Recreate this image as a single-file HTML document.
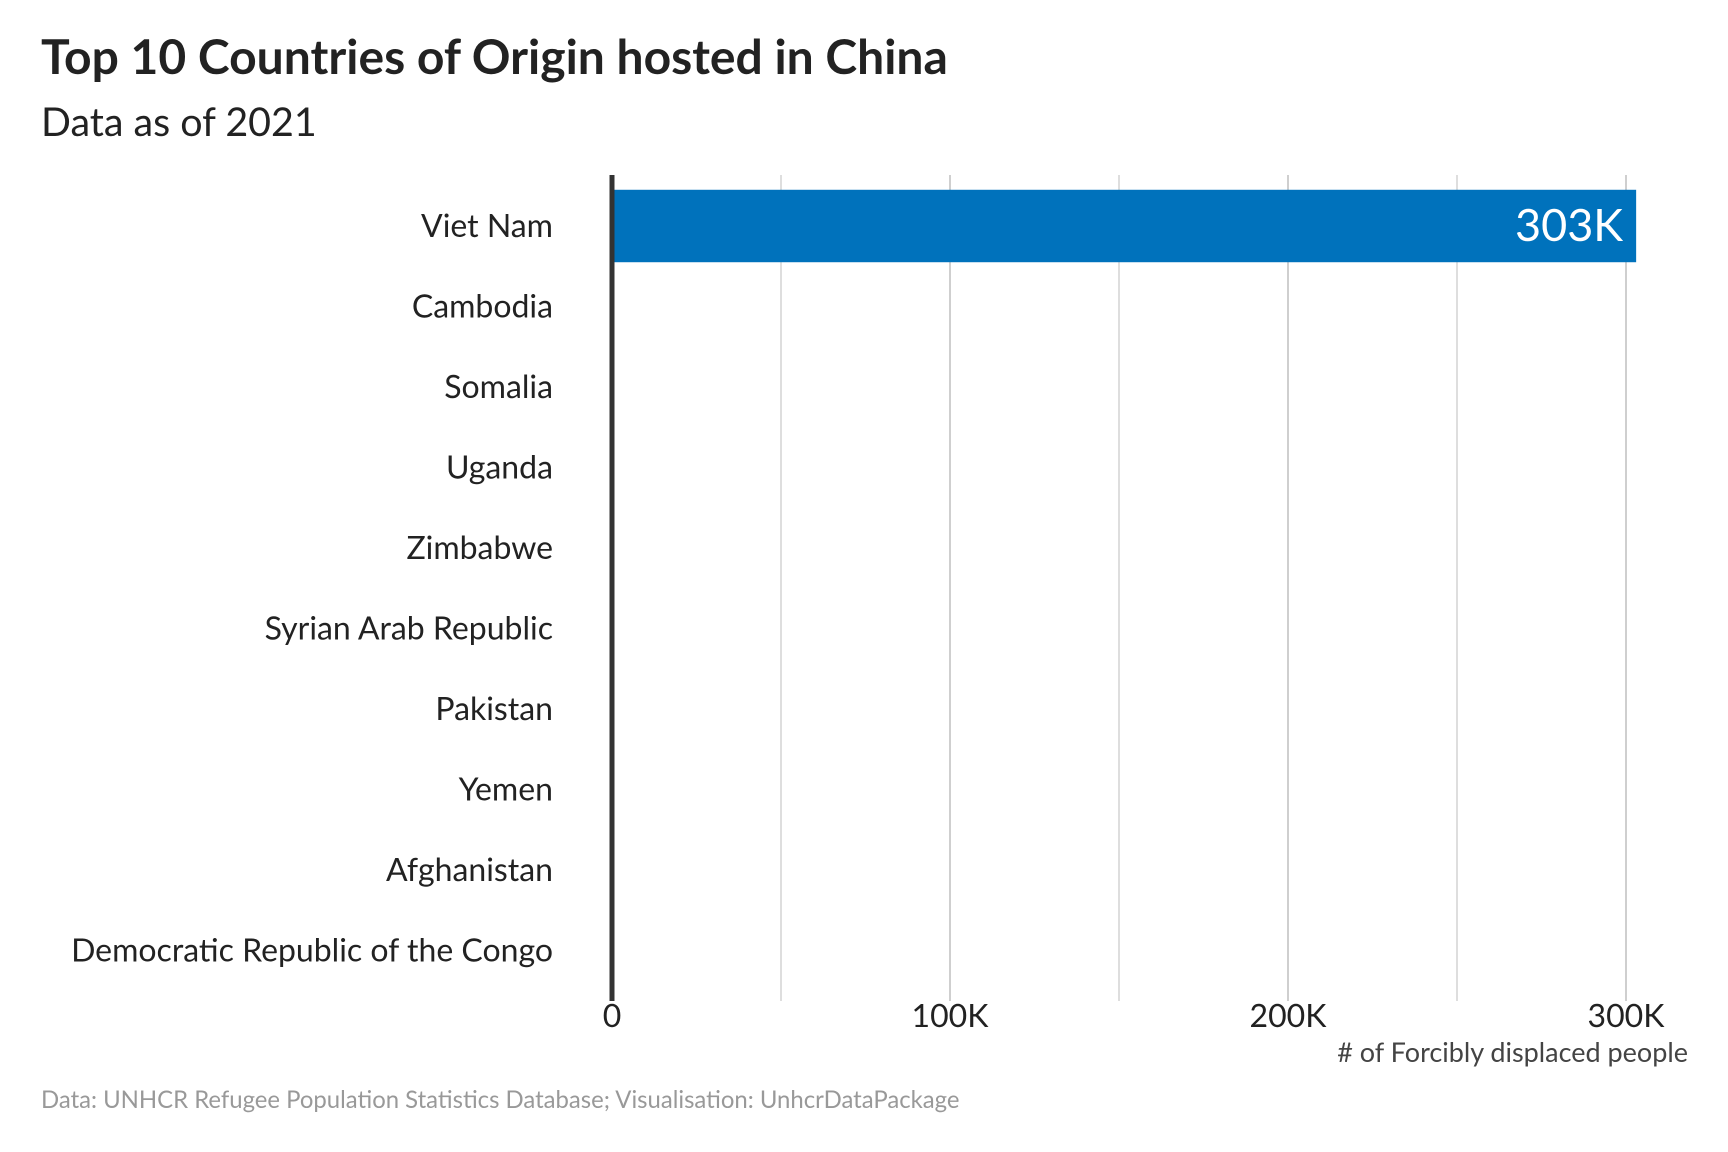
<!DOCTYPE html>
<html><head><meta charset="utf-8">
<style>
body{margin:0;background:#fff;}
svg{display:block;font-family:"Lato","Liberation Sans",sans-serif;}
</style></head>
<body>
<svg id="chart" width="1728" height="1152" viewBox="0 0 1728 1152" xmlns="http://www.w3.org/2000/svg">
<rect width="1728" height="1152" fill="#fff"/>
<text x="41" y="74" font-size="48" font-weight="bold" fill="#222">Top 10 Countries of Origin hosted in China</text>
<text x="41" y="136" font-size="39.4" fill="#222">Data as of 2021</text>
<g id="grid"></g>
<g id="bars"></g>
<g id="ylabels"></g>
<g id="xlabels"></g>
<text x="1688" y="1062" font-size="27" fill="#444" text-anchor="end"># of Forcibly displaced people</text>
<text x="41" y="1108" font-size="23.9" fill="#999">Data: UNHCR Refugee Population Statistics Database; Visualisation: UnhcrDataPackage</text>
</svg>
<script>
const categories = ["Viet Nam","Cambodia","Somalia","Uganda","Zimbabwe","Syrian Arab Republic","Pakistan","Yemen","Afghanistan","Democratic Republic of the Congo"];
const values = [303000,30,20,15,12,10,8,6,5,4];
const barLabels = ["303K","","","","","","","","",""];
const tickValues = [0,100000,200000,300000];
const tickLabels = ["0","100K","200K","300K"];
const minorTicks = [50000,150000,250000];

const NS="http://www.w3.org/2000/svg";
const x0=612, pxPer=(1626-612)/300000;
const xs=v=>x0+v*pxPer;
const gridTop=175, gridBottom=1001;
const band=80.5, firstCenter=226;
const yc=i=>firstCenter+band*i;
function mk(tag,attrs,parent){const e=document.createElementNS(NS,tag);for(const k in attrs)e.setAttribute(k,attrs[k]);parent.appendChild(e);return e;}
const grid=document.getElementById('grid'),bars=document.getElementById('bars'),yl=document.getElementById('ylabels'),xl=document.getElementById('xlabels');
minorTicks.forEach(v=>{
  const l=mk('line',{x1:xs(v),x2:xs(v),y1:gridTop,y2:gridBottom,stroke:'#dedede','stroke-width':2},grid);
  
  
});
tickValues.forEach((v,i)=>{
  if(v>0){
    const l=mk('line',{x1:xs(v),x2:xs(v),y1:gridTop,y2:gridBottom,stroke:'#cfcfcf','stroke-width':2},grid);
    
    
  }
  const t=mk('text',{x:xs(v),y:1027,'font-size':32,fill:'#222','text-anchor':'middle'},xl);
  t.textContent=tickLabels[i];
  
  
});
categories.forEach((c,i)=>{
  const h=band*0.9;
  const r=mk('rect',{x:x0,y:yc(i)-h/2,width:Math.max(0,xs(values[i])-x0),height:h,fill:'#0072bc'},bars);
  
  
  if(barLabels[i]){
    const t=mk('text',{x:xs(values[i])-13,y:yc(i)+15,'font-size':45,fill:'#fff','text-anchor':'end'},bars);
    t.textContent=barLabels[i];
    
    
  }
  const t=mk('text',{x:553,y:yc(i)+11,'font-size':32,fill:'#222','text-anchor':'end'},yl);
  t.textContent=c;
  
  
});
const ax=mk('line',{x1:x0,x2:x0,y1:gridTop,y2:gridBottom,stroke:'#333','stroke-width':5},document.getElementById('chart'));


</script>
</body></html>
